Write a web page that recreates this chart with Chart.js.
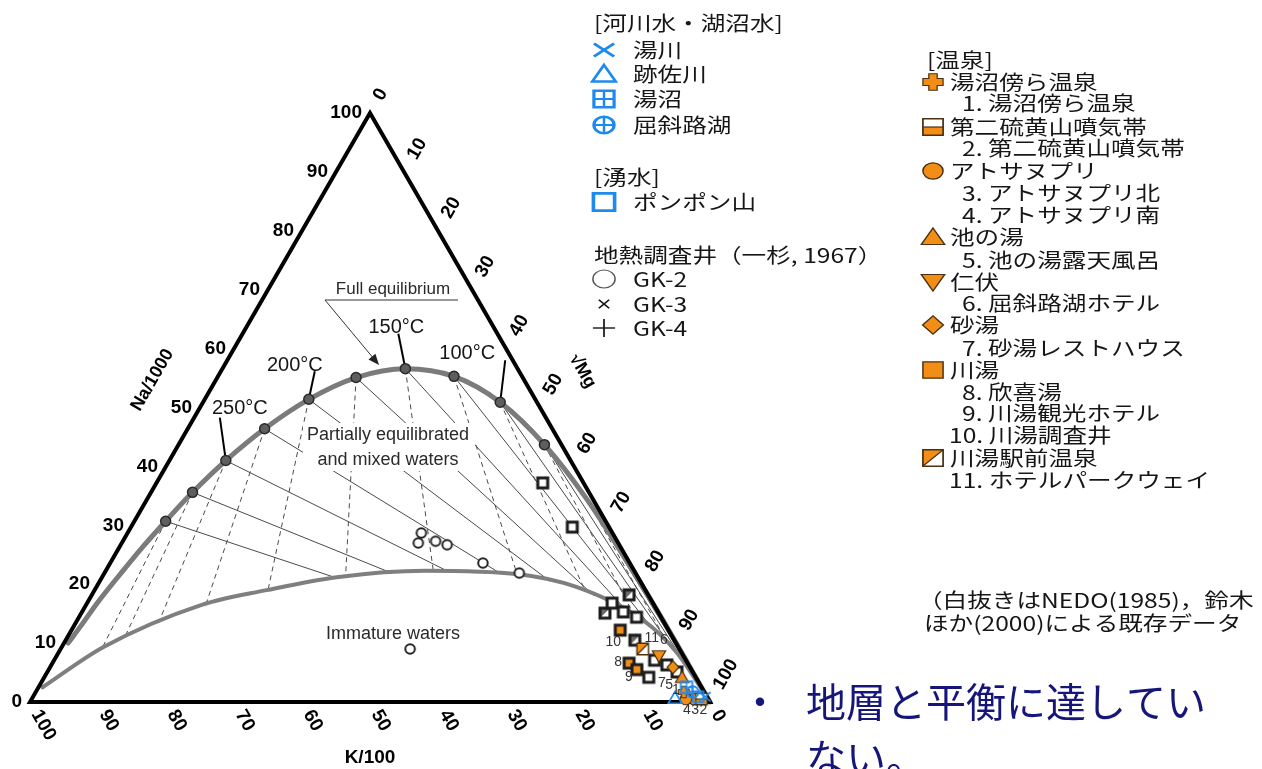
<!DOCTYPE html>
<html lang="ja">
<head>
<meta charset="utf-8">
<title>Na-K-Mg 三角ダイアグラム</title>
<script src="https://cdn.jsdelivr.net/npm/chart.js@4.4.1/dist/chart.umd.min.js"></script>
<style>
  html, body { margin: 0; padding: 0; background: #fff; }
  #box { width: 1262px; height: 769px; }
</style>
</head>
<body>
<div id="box"><canvas id="tri" width="1262" height="769"></canvas></div>
<script>
// Giggenbach Na/1000 - K/100 - √Mg diagram.
// Every composition is [Na %, Mg %] of the three scaled components (K = 100 - Na - Mg).

const tickValues = [0, 10, 20, 30, 40, 50, 60, 70, 80, 90, 100];

// full equilibrium line
const eqNa = [10.0, 12.8, 16.9, 22.6, 26.3, 30.7, 35.6, 41.0, 46.4, 51.4, 55.1, 56.6, 55.3, 50.9, 43.7, 34.5, 24.7, 15.6, 0];
const eqMg = [0.6, 1.0, 1.5, 2.6, 3.4, 4.6, 6.1, 8.3, 11.3, 15.3, 20.4, 26.9, 34.7, 43.7, 53.8, 64.6, 75.0, 84.4, 100];

// temperature points on the full equilibrium line (°C)
const isoTemps = [300, 275, 250, 225, 200, 175, 150, 125, 100, 75, 50];
const isoNa = [30.7, 35.6, 41.0, 46.4, 51.4, 55.1, 56.6, 55.3, 50.9, 43.7, 34.5];
const isoMg = [4.6, 6.1, 8.3, 11.3, 15.3, 20.4, 26.9, 34.7, 43.7, 53.8, 64.6];
const namedTemps = [250, 200, 150, 100];

// boundary between partially equilibrated and immature waters
const immNa = [2.5, 9.3, 16.5, 19.0, 21.2, 22.3, 21.7, 19.5, 13.9, 8.5, 0];
const immMg = [0.6, 6.1, 17.0, 25.3, 34.5, 46.9, 61.0, 70.7, 83.2, 90.8, 100];

// river / lake water
const riverNames = ['湯川', '跡佐川', '湯沼', '屈斜路湖'];
const riverNa = [0.9, 0.7, 2.5, 1.7];
const riverMg = [98.8, 94.5, 95.3, 96.6];

// spring water
const springName = 'ポンポン山';
const springNa = [0.9];
const springMg = [97.8];

// geothermal wells (一杉, 1967)
const wellNames = ['GK-2', 'GK-3', 'GK-4'];
const gk2Na = [28.7, 27.0, 27.3, 26.7, 23.6, 21.9, 9.0];
const gk2Mg = [43.2, 43.6, 46.0, 48.0, 54.8, 61.0, 51.4];

// hot springs
const spaGroups = ['湯沼傍ら温泉', '第二硫黄山噴気帯', 'アトサヌプリ', '池の湯', '仁伏', '砂湯', '川湯', '川湯駅前温泉'];
const spaSites = [
  ['1. 湯沼傍ら温泉'], ['2. 第二硫黄山噴気帯'], ['3. アトサヌプリ北', '4. アトサヌプリ南'],
  ['5. 池の湯露天風呂'], ['6. 屈斜路湖ホテル'], ['7. 砂湯レストハウス'],
  ['8. 欣喜湯', '9. 川湯観光ホテル', '10. 川湯調査井'], ['11. ホテルパークウェイ']
];
const spaNo = [[1], [2], [3, 4], [5], [6], [7], [8, 9, 10], [11]];
const spaNa = [[1.7], [0.5], [0.5, 0.5], [4.2], [7.8], [5.9], [6.6, 5.5, 12.2], [9.0]];
const spaMg = [[95.3], [98.5], [97.4, 96.2], [93.8], [88.6], [91.6], [84.8, 86.5, 80.7], [85.6]];

// earlier data (NEDO 1985, 鈴木ほか 2000), open symbols
const oldSqNa = [37.2, 29.7, 16.8, 15.3, 14.4, 4.2, 7.1, 6.3, 5.1];
const oldSqMg = [56.8, 64.9, 77.2, 79.6, 82.0, 88.9, 88.3, 90.5, 92.6];
const oldDiagNa = [18.2, 15.1, 10.5];
const oldDiagMg = [79.0, 77.0, 83.7];

// ---------------------------------------------------------------------------

const W = 1262, H = 769;
const X0 = 30, Y0 = 702, SIDE = 680;   // K corner in px, side length in px
const BLUE = '#1e8aee', ORANGE = '#f28e16', EDGE = '#4a3010', INK = '#161616';
const H3 = Math.sqrt(3) / 2;

function tern(na, mg) { return { x: mg / 100 + na / 200, y: na / 100 * H3 }; }
const pts = (na, mg) => na.map((v, i) => tern(v, mg[i]));

const lower = pts(immNa, immMg);
const cornerMg = tern(0, 100), apexNa = tern(100, 0);

// first crossing of the ray p -> q with the immature-water boundary
function hitLower(p, q) {
  const d = { x: q.x - p.x, y: q.y - p.y };
  let best = null;
  for (let i = 0; i < lower.length - 1; i++) {
    const a = lower[i], b = lower[i + 1];
    const e = { x: b.x - a.x, y: b.y - a.y };
    const den = d.x * e.y - d.y * e.x;
    if (Math.abs(den) < 1e-12) continue;
    const t = ((a.x - p.x) * e.y - (a.y - p.y) * e.x) / den;
    const u = ((a.x - p.x) * d.y - (a.y - p.y) * d.x) / den;
    if (t > 1e-6 && u >= 0 && u <= 1 && (best === null || t < best)) best = t;
  }
  return best === null ? q : { x: p.x + d.x * best, y: p.y + d.y * best };
}

// ---- marker shapes --------------------------------------------------------
function seg(g, x1, y1, x2, y2) { g.beginPath(); g.moveTo(x1, y1); g.lineTo(x2, y2); g.stroke(); }
function poly(g, p, fill, stroke, lw) {
  g.beginPath();
  p.forEach(([x, y], i) => i ? g.lineTo(x, y) : g.moveTo(x, y));
  g.closePath();
  if (fill) { g.fillStyle = fill; g.fill(); }
  if (stroke) { g.strokeStyle = stroke; g.lineWidth = lw; g.stroke(); }
}
const sq = a => [[-a, -a], [a, -a], [a, a], [-a, a]];

function drawKind(g, kind, s) {
  const a = s * 0.82;
  g.lineJoin = 'miter'; g.lineCap = 'butt';
  switch (kind) {
    case 'x':
      g.strokeStyle = BLUE; g.lineWidth = s * 0.26;
      seg(g, -a, -a * 0.8, a, a * 0.8); seg(g, a, -a * 0.8, -a, a * 0.8); break;
    case 'tri':
      poly(g, [[0, -s * 0.9], [s * 0.95, s * 0.75], [-s * 0.95, s * 0.75]], null, BLUE, s * 0.24); break;
    case 'grid':
      poly(g, sq(a), null, BLUE, s * 0.26);
      g.lineWidth = s * 0.2; seg(g, 0, -a, 0, a); seg(g, -a, 0, a, 0); break;
    case 'cplus':
      g.strokeStyle = BLUE; g.lineWidth = s * 0.26;
      g.beginPath(); g.arc(0, 0, a, 0, Math.PI * 2); g.stroke();
      g.lineWidth = s * 0.2; seg(g, 0, -a, 0, a); seg(g, -a, 0, a, 0); break;
    case 'sq':
      poly(g, sq(a), null, BLUE, s * 0.28); break;
    case 'ring':
      g.beginPath(); g.arc(0, 0, a, 0, Math.PI * 2);
      g.fillStyle = '#fff'; g.fill(); g.strokeStyle = '#222'; g.lineWidth = 2; g.stroke(); break;
    case 'lring':
      g.beginPath(); g.arc(0, 0, a, 0, Math.PI * 2);
      g.strokeStyle = '#555'; g.lineWidth = 1.2; g.stroke(); break;
    case 'smallx': {
      const b = s * 0.38;
      g.strokeStyle = INK; g.lineWidth = 1.4; seg(g, -b, -b, b, b); seg(g, b, -b, -b, b); break;
    }
    case 'plus':
      g.strokeStyle = INK; g.lineWidth = 1.4; seg(g, -a, 0, a, 0); seg(g, 0, -a, 0, a); break;
    case 'ocross': {
      const w = s * 0.34;
      poly(g, [[-w, -a], [w, -a], [w, -w], [a, -w], [a, w], [w, w], [w, a], [-w, a], [-w, w], [-a, w], [-a, -w], [-w, -w]], ORANGE, EDGE, 1);
      break;
    }
    case 'ohalf':
      poly(g, sq(a), '#fff', null);
      g.fillStyle = ORANGE; g.fillRect(-a, 0, 2 * a, a);
      poly(g, sq(a), null, EDGE, 1.4); g.lineWidth = 1.2; seg(g, -a, 0, a, 0); break;
    case 'odot':
      g.beginPath(); g.arc(0, 0, a, 0, Math.PI * 2);
      g.fillStyle = ORANGE; g.fill(); g.strokeStyle = EDGE; g.lineWidth = 1.2; g.stroke(); break;
    case 'otri':
      poly(g, [[0, -s * 0.9], [s * 0.95, s * 0.75], [-s * 0.95, s * 0.75]], ORANGE, EDGE, 1.2); break;
    case 'otrid':
      poly(g, [[0, s * 0.9], [s * 0.95, -s * 0.75], [-s * 0.95, -s * 0.75]], ORANGE, EDGE, 1.2); break;
    case 'odia':
      poly(g, [[0, -s * 0.92], [s * 0.85, 0], [0, s * 0.92], [-s * 0.85, 0]], ORANGE, EDGE, 1.2); break;
    case 'osq':
      poly(g, sq(a), ORANGE, EDGE, 1.2); break;
    case 'odiag':
      poly(g, sq(a), '#fff', null);
      poly(g, [[-a, -a], [a, -a], [-a, a]], ORANGE, null);
      poly(g, sq(a), null, EDGE, 1.4); g.lineWidth = 1.2; seg(g, a, -a, -a, a); break;
    // heavy framed squares used inside the diagram
    case 'ksq': {
      const k = s * 0.62; poly(g, sq(k), '#fff', '#1c1c1c', s * 0.38); break;
    }
    case 'ksqo': {
      const k = s * 0.62; poly(g, sq(k), ORANGE, '#1c1c1c', s * 0.38); break;
    }
    case 'ksqd': {
      const k = s * 0.62;
      poly(g, sq(k), '#fff', null);
      poly(g, [[-k, -k], [k, -k], [-k, k]], '#6a6a6a', null);
      poly(g, sq(k), null, '#1c1c1c', s * 0.38); break;
    }
  }
}

function markerCanvas(kind, s) {
  const n = Math.ceil(s * 2 + 6);
  const c = document.createElement('canvas');
  c.width = n; c.height = n;
  const g = c.getContext('2d');
  g.translate(n / 2, n / 2);
  drawKind(g, kind, s);
  return c;
}

// ---- datasets -------------------------------------------------------------
const datasets = [];

function lineSet(data, color, width, extra) {
  return Object.assign({ data, showLine: true, borderColor: color, borderWidth: width, pointRadius: 0, fill: false }, extra || {});
}
function pointSet(data, kind, s, order) {
  return { data, showLine: false, pointStyle: markerCanvas(kind, s), pointRadius: s, order };
}

// triangle frame
datasets.push(lineSet([tern(0, 0), tern(100, 0), tern(0, 100), tern(0, 0), tern(100, 0)], '#000', 4,
  { order: 20, borderJoinStyle: 'miter', borderCapStyle: 'butt' }));

// curves (both run left to right, so monotone interpolation keeps them smooth)
datasets.push(lineSet(pts(eqNa, eqMg), '#7b7b7b', 5, { order: 30, cubicInterpolationMode: 'monotone', borderCapStyle: 'round' }));
datasets.push(lineSet(lower, '#7f7f7f', 4, { order: 31, cubicInterpolationMode: 'monotone', borderCapStyle: 'round' }));

// isotherms: Na-K (solid, toward the Mg corner) and K-Mg (dashed, away from the Na corner)
const isoPts = pts(isoNa, isoMg);
isoPts.forEach(p => {
  datasets.push(lineSet([p, hitLower(p, cornerMg)], '#4a4a4a', 1, { order: 40 }));
  const away = { x: 2 * p.x - apexNa.x, y: 2 * p.y - apexNa.y };
  datasets.push(lineSet([p, hitLower(p, away)], '#4a4a4a', 1, { order: 41, borderDash: [5, 4] }));
});

// temperature dots
datasets.push({
  data: isoPts.filter((p, i) => isoTemps[i] >= 75), showLine: false,
  pointRadius: 5, pointBackgroundColor: '#5e5e5e', pointBorderColor: '#2a2a2a', pointBorderWidth: 1.5, order: 15
});

// samples
datasets.push(pointSet(pts(oldSqNa, oldSqMg), 'ksq', 8, 10));
datasets.push(pointSet(pts(oldDiagNa, oldDiagMg), 'ksqd', 8, 10));
datasets.push(pointSet(pts(gk2Na, gk2Mg), 'ring', 5.8, 9));

const spaKinds = ['ocross', 'ohalf', 'odot', 'otri', 'otrid', 'odia', 'ksqo', 'odiag'];
spaGroups.forEach((g, i) => {
  const kind = spaKinds[i];
  const s = kind === 'ksqo' ? 8 : 7;
  datasets.push(pointSet(pts(spaNa[i], spaMg[i]), kind, s, 5));
});

const riverKinds = ['x', 'tri', 'grid', 'cplus'];
riverNames.forEach((n, i) => datasets.push(pointSet([tern(riverNa[i], riverMg[i])], riverKinds[i], 7, 1)));
datasets.push(pointSet(pts(springNa, springMg), 'sq', 6.5, 1));

// ---- text, annotations and legends ----------------------------------------
const TICK_FONT = 'bold 19px "Liberation Sans", Arial, sans-serif';
const SANS = '"Liberation Sans", Arial, sans-serif';
const JP = '"Noto Sans CJK JP", sans-serif';
const LEG_FONT = '20px ' + JP;
const LEG_SX = 1.23;

// label offsets (px) from each temperature dot: label centre and leader end
const tempLabelPos = { 250: [14, -52, -6, -43], 200: [-14, -34, 6, -28], 150: [-9, -41, -7, -35], 100: [-33, -49, 5, -42] };
// sample number offsets (px) from the marker
const spaLabelPos = { 1: [-8, -2], 2: [2, 11], 3: [1, 11], 4: [1, 11], 5: [-13, 8], 6: [5, -16], 7: [-11, 16], 8: [-11, -1], 9: [-8, 8], 10: [-7, 12], 11: [9, -11] };

const leftRows = [23, 50, 74, 99, 125, 177, 202, 255, 279, 304, 328];
const rightRows = [60, 82, 103, 127, 148, 171, 193, 215, 237, 260, 282, 303, 325, 348, 370, 392, 413, 435, 458, 480];

function pix(chart, t) {
  return { x: chart.scales.x.getPixelForValue(t.x), y: chart.scales.y.getPixelForValue(t.y) };
}
function rotText(ctx, text, x, y, ang, align) {
  ctx.save(); ctx.translate(x, y); ctx.rotate(ang);
  ctx.textAlign = align || 'left'; ctx.textBaseline = 'middle';
  ctx.fillText(text, 0, 0); ctx.restore();
}
function legText(ctx, text, x, y) {
  ctx.save(); ctx.translate(x, y); ctx.scale(LEG_SX, 1);
  ctx.textAlign = 'left'; ctx.textBaseline = 'middle'; ctx.fillText(text, 0, 0); ctx.restore();
}
function legMark(ctx, kind, x, y, s) {
  ctx.save(); ctx.translate(x, y); ctx.scale(LEG_SX, 1); drawKind(ctx, kind, s); ctx.restore();
}

const diagram = {
  id: 'diagram',
  beforeDatasetsDraw(chart) {
    const ctx = chart.ctx;
    ctx.save();
    ctx.strokeStyle = '#000'; ctx.lineWidth = 2;
    namedTemps.forEach(t => {
      const i = isoTemps.indexOf(t);
      const p = pix(chart, tern(isoNa[i], isoMg[i]));
      const o = tempLabelPos[t];
      seg(ctx, p.x, p.y, p.x + o[2], p.y + o[3]);
    });
    ctx.restore();
  },
  afterDatasetsDraw(chart) {
    const ctx = chart.ctx;
    ctx.save();

    // axis numbers
    ctx.fillStyle = '#000';
    ctx.font = TICK_FONT;
    tickValues.forEach(v => {
      let p = pix(chart, tern(v, 0));
      ctx.textAlign = 'right'; ctx.textBaseline = 'middle';
      ctx.fillText(String(v), p.x - 8, p.y);
      p = pix(chart, tern(0, 100 - v));
      rotText(ctx, String(v), p.x + 5.5, p.y + 9.5, Math.PI / 3);
      p = pix(chart, tern(100 - v, v));
      rotText(ctx, String(v), p.x + 8, p.y - 13.9, -Math.PI / 3);
    });

    // axis titles
    let m = pix(chart, tern(50, 0));
    ctx.font = 'bold 18px ' + SANS;
    rotText(ctx, 'Na/1000', m.x - 47.6, m.y - 27.5, -Math.PI / 3, 'center');
    m = pix(chart, tern(0, 50));
    ctx.font = 'bold 19px ' + SANS;
    rotText(ctx, 'K/100', m.x, m.y + 56, 0, 'center');
    m = pix(chart, tern(50, 50));
    ctx.font = 'bold 18px ' + SANS;
    rotText(ctx, '√Mg', m.x + 42.6, m.y - 36.2, Math.PI / 3, 'center');

    // temperature labels
    ctx.fillStyle = INK;
    ctx.font = '20px ' + SANS;
    namedTemps.forEach(t => {
      const i = isoTemps.indexOf(t);
      const p = pix(chart, tern(isoNa[i], isoMg[i]));
      const o = tempLabelPos[t];
      rotText(ctx, t + '°C', p.x + o[0], p.y + o[1], 0, 'center');
    });

    // region labels
    ctx.fillStyle = '#fff';
    ctx.fillRect(303, 423, 172, 48);
    ctx.fillStyle = '#2a2a2a';
    ctx.font = '18px ' + SANS;
    rotText(ctx, 'Partially equilibrated', 388, 435, 0, 'center');
    rotText(ctx, 'and mixed waters', 388, 460, 0, 'center');
    rotText(ctx, 'Immature waters', 393, 634, 0, 'center');

    // full equilibrium pointer
    ctx.font = '17px ' + SANS;
    rotText(ctx, 'Full equilibrium', 393, 289, 0, 'center');
    ctx.strokeStyle = '#333'; ctx.lineWidth = 1;
    seg(ctx, 325, 300, 458, 300);
    const tip = { x: 379, y: 365 }, from = { x: 325, y: 300 };
    const len = Math.hypot(tip.x - from.x, tip.y - from.y);
    const ux = (tip.x - from.x) / len, uy = (tip.y - from.y) / len;
    seg(ctx, from.x, from.y, tip.x - ux * 8, tip.y - uy * 8);
    poly(ctx, [[tip.x, tip.y], [tip.x - ux * 11 - uy * 4.5, tip.y - uy * 11 + ux * 4.5], [tip.x - ux * 11 + uy * 4.5, tip.y - uy * 11 - ux * 4.5]], '#222', null);

    // sample numbers
    ctx.fillStyle = '#333';
    ctx.font = '14px ' + SANS;
    spaNo.forEach((nos, gi) => nos.forEach((n, k) => {
      const p = pix(chart, tern(spaNa[gi][k], spaMg[gi][k]));
      const o = spaLabelPos[n];
      rotText(ctx, String(n), p.x + o[0], p.y + o[1], 0, 'center');
    }));

    // left legend
    ctx.fillStyle = INK;
    ctx.font = LEG_FONT;
    const mx = 604, tx = 633, hx = 594;
    let r = 0;
    legText(ctx, '[河川水・湖沼水]', hx, leftRows[r++]);
    riverNames.forEach((n, i) => { legMark(ctx, riverKinds[i], mx, leftRows[r], 10); legText(ctx, n, tx, leftRows[r++]); });
    legText(ctx, '[湧水]', hx, leftRows[r++]);
    legMark(ctx, 'sq', mx, leftRows[r], 10.5); legText(ctx, springName, tx, leftRows[r++]);
    legText(ctx, '地熱調査井（一杉, 1967）', hx, leftRows[r++]);
    ['lring', 'smallx', 'plus'].forEach((k, i) => {
      legMark(ctx, k, mx, leftRows[r], 11); legText(ctx, wellNames[i], tx, leftRows[r++]);
    });

    // right legend
    ctx.fillStyle = INK;
    ctx.font = LEG_FONT;
    r = 0;
    legText(ctx, '[温泉]', 927, rightRows[r++]);
    spaGroups.forEach((g, i) => {
      legMark(ctx, spaKinds[i] === 'ksqo' ? 'osq' : spaKinds[i], 933, rightRows[r], 10);
      legText(ctx, g, 950, rightRows[r++]);
      spaSites[i].forEach(s => legText(ctx, s, s.indexOf('.') > 1 ? 949 : 962, rightRows[r++]));
    });
    legText(ctx, '（白抜きはNEDO(1985)，鈴木', 918, 600);
    legText(ctx, 'ほか(2000)による既存データ', 924, 623);

    // note
    ctx.fillStyle = '#16167a';
    ctx.font = '40px ' + JP;
    ctx.textAlign = 'left'; ctx.textBaseline = 'middle';
    ctx.fillText('・', 740, 702);
    ctx.fillText('地層と平衡に達してい', 806, 702);
    ctx.fillText('ない。', 806, 758);

    ctx.restore();
  }
};

new Chart(document.getElementById('tri'), {
  type: 'scatter',
  data: { datasets },
  options: {
    responsive: false,
    animation: false,
    events: [],
    devicePixelRatio: 1,
    layout: { padding: 0, autoPadding: false },
    plugins: { legend: { display: false }, tooltip: { enabled: false } },
    scales: {
      x: { type: 'linear', display: false, min: -X0 / SIDE, max: (W - X0) / SIDE },
      y: { type: 'linear', display: false, min: -(H - Y0) / SIDE, max: Y0 / SIDE }
    }
  },
  plugins: [diagram]
});
</script>
</body>
</html>
